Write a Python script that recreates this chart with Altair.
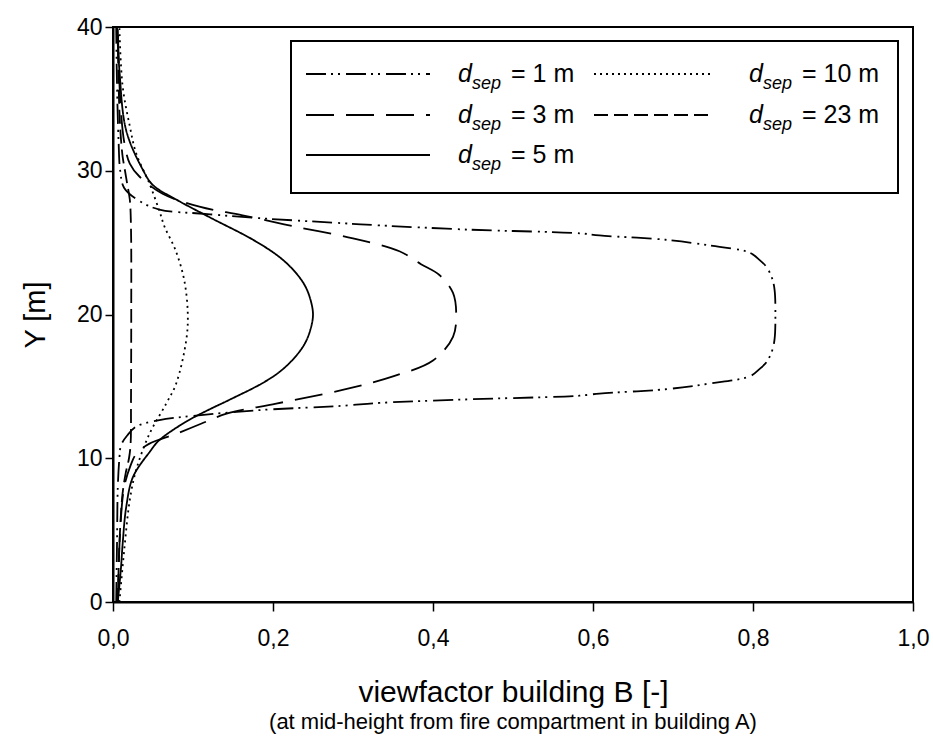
import altair as alt
import pandas as pd

# ---------------- data ----------------
series_names = ["d1", "d3", "d5", "d10", "d23"]

y_d1 = [0, 4, 8, 10, 10.9, 11.6, 12.2, 12.65, 13.0, 13.35, 13.65, 13.85, 14.1, 14.35, 14.5,
        14.8, 15.2, 15.7, 16.2, 16.7, 17.5, 18.3, 20.0, 21.7, 22.5, 23.3, 23.8, 24.3, 24.8,
        25.2, 25.5, 25.65, 25.9, 26.2, 26.35, 26.7, 27.0, 27.3, 27.9, 28.8, 30, 32, 36, 40]
x_d1 = [0.004, 0.005, 0.006, 0.008, 0.010, 0.018, 0.029, 0.058, 0.11, 0.183, 0.287, 0.333,
        0.446, 0.583, 0.608, 0.691, 0.746, 0.796, 0.808, 0.817, 0.824, 0.827, 0.828, 0.827,
        0.824, 0.817, 0.808, 0.796, 0.746, 0.691, 0.608, 0.583, 0.446, 0.333, 0.287, 0.183,
        0.115, 0.058, 0.033, 0.014, 0.009, 0.007, 0.005, 0.004]

y_d3 = [0, 5, 8, 9.5, 10.3, 11.0, 11.7, 12.4, 13.1, 13.8, 14.75, 15.7, 16.8, 18.45, 20,
        21.5, 22.75, 23.5, 24.4, 25.3, 26.1, 26.9, 27.5, 28.4, 29.6, 30.5, 32, 35, 40]
x_d3 = [0.006, 0.009, 0.014, 0.022, 0.029, 0.045, 0.079, 0.11, 0.142, 0.204, 0.287, 0.35,
        0.40, 0.425, 0.429, 0.425, 0.408, 0.385, 0.358, 0.30, 0.229, 0.162, 0.108, 0.062,
        0.033, 0.021, 0.014, 0.009, 0.006]

y_d5 = [0, 2.4, 4, 6.6, 8.7, 10.45, 11.26, 12.5, 13.3, 14.05, 15.2, 16.0, 17.0, 18.0,
        19.0, 20.0, 21.0, 22.0, 23.0, 24.0, 25.2, 26.7, 28.0, 29.0, 30.1, 32.8, 37, 40]
x_d5 = [0.006, 0.010, 0.012, 0.0165, 0.025, 0.046, 0.058, 0.090, 0.117, 0.145, 0.186, 0.208,
        0.227, 0.240, 0.247, 0.250, 0.247, 0.240, 0.227, 0.208, 0.175, 0.123, 0.079,
        0.050, 0.037, 0.0165, 0.008, 0.005]

y_d10 = [0, 3.6, 7.1, 9.2, 11.7, 13.8, 15.2, 18.2, 20, 22.4, 24.5, 26.1, 27.2, 29.1, 31.2,
         33.1, 35.9, 40]
x_d10 = [0.008, 0.014, 0.021, 0.029, 0.0456, 0.0665, 0.079, 0.0915, 0.0935, 0.089, 0.078,
         0.0645, 0.058, 0.0456, 0.029, 0.021, 0.012, 0.008]

y_d23 = [0, 4, 7, 8, 9, 10, 11, 14, 20, 26, 28, 29, 30, 31, 33, 36, 40]
x_d23 = [0.006, 0.008, 0.011, 0.013, 0.016, 0.020, 0.022, 0.0225, 0.0228, 0.0225, 0.021,
         0.018, 0.015, 0.012, 0.009, 0.007, 0.006]

legend_labels = ["= 1 m", "= 3 m", "= 5 m", "= 10 m", "= 23 m"]
x_ticks = [0.0, 0.2, 0.4, 0.6, 0.8, 1.0]
y_ticks = [0, 10, 20, 30, 40]

# ---------------- styling / layout ----------------
W, H = 800, 575
FONT = "Liberation Sans"
dash_patterns = [[20, 5, 2, 5, 2, 6], [28, 12], [1, 0], [2, 4], [14, 6]]
stroke_widths = [1.8, 1.8, 1.8, 2.4, 1.8]

rows = []
for name, ys, xs in [("d1", y_d1, x_d1), ("d3", y_d3, x_d3), ("d5", y_d5, x_d5),
                     ("d10", y_d10, x_d10), ("d23", y_d23, x_d23)]:
    for i, (yy, xx) in enumerate(zip(ys, xs)):
        rows.append({"series": name, "i": i, "x": xx, "y": yy})
df = pd.DataFrame(rows)

xscale = alt.Scale(domain=[0, 1], nice=False, zero=False)
yscale = alt.Scale(domain=[0, 40], nice=False, zero=False)
dash_scale = alt.Scale(domain=series_names, range=dash_patterns)
sw_scale = alt.Scale(domain=series_names, range=stroke_widths)

x_axis = alt.Axis(
    values=x_ticks, labelExpr="replace(format(datum.value, '.1f'), '.', ',')",
    grid=False, tickSize=9, tickWidth=1.5, tickColor="black",
    domainColor="black", domainWidth=2, labelFont=FONT, labelFontSize=23,
    labelColor="black", labelPadding=16, labelFlush=False,
    title="viewfactor building B [-]", titleFont=FONT, titleFontSize=30,
    titleFontWeight="normal", titleColor="black", titleY=99, titleX=W / 2,
    titleBaseline="alphabetic", titleAlign="center",
)
y_axis = alt.Axis(
    values=y_ticks, grid=False, tickSize=8, tickWidth=1.5, tickColor="black",
    domainColor="black", domainWidth=2, labelFont=FONT, labelFontSize=23,
    labelColor="black", labelPadding=3, labelFlush=False,
    title="Y [m]", titleFont=FONT, titleFontSize=29, titleFontWeight="normal",
    titleColor="black", titleX=-78, titleY=H / 2, titleBaseline="middle",
    titleAlign="center", titleAngle=270,
)

lines = alt.Chart(df).mark_line(color="black", interpolate="catmull-rom").encode(
    x=alt.X("x:Q", scale=xscale, axis=x_axis),
    y=alt.Y("y:Q", scale=yscale, axis=y_axis),
    detail="series:N",
    order="i:Q",
    strokeDash=alt.StrokeDash("series:N", scale=dash_scale, legend=None),
    strokeWidth=alt.StrokeWidth("series:N", scale=sw_scale, legend=None),
)


# legend layout (pixels within plot area) converted to data units
def px2x(p):
    return p / W


def py2y(p):
    return 40.0 * (H - p) / H


box_df = pd.DataFrame({"x0": [px2x(178)], "x1": [px2x(785)],
                       "y0": [py2y(14)], "y1": [py2y(166)]})
box = alt.Chart(box_df).mark_rect(fill="white", stroke="black", strokeWidth=2).encode(
    x="x0:Q", x2="x1:Q", y="y0:Q", y2="y1:Q")

leg_cols = {"d1": 0, "d3": 0, "d5": 0, "d10": 1, "d23": 1}
leg_rows = {"d1": 0, "d3": 1, "d5": 2, "d10": 0, "d23": 1}
sample_x = [(193, 317), (481, 601)]
text_x = [345, 636]
row_y = [47, 88, 128]

leg_rows_data = []
for name, lab in zip(series_names, legend_labels):
    c, r = leg_cols[name], leg_rows[name]
    leg_rows_data.append({
        "series": name,
        "lx0": px2x(sample_x[c][0]), "lx1": px2x(sample_x[c][1]), "ly": py2y(row_y[r]),
        "dx": px2x(text_x[c]), "dy": py2y(row_y[r] + 8),
        "sx": px2x(text_x[c] + 14), "sy": py2y(row_y[r] + 15),
        "ex": px2x(text_x[c] + 53), "ey": py2y(row_y[r] + 8),
        "d": "d", "sub": "sep", "label": lab,
    })
leg_df = pd.DataFrame(leg_rows_data)

samples = alt.Chart(leg_df).mark_rule(color="black").encode(
    x="lx0:Q", x2="lx1:Q", y="ly:Q",
    strokeDash=alt.StrokeDash("series:N", scale=dash_scale, legend=None),
    strokeWidth=alt.StrokeWidth("series:N", scale=sw_scale, legend=None),
)
t_d = alt.Chart(leg_df).mark_text(font=FONT, fontSize=25, fontStyle="italic", align="left",
                                  baseline="alphabetic", color="black").encode(
    x="dx:Q", y="dy:Q", text="d:N")
t_sub = alt.Chart(leg_df).mark_text(font=FONT, fontSize=18, fontStyle="italic", align="left",
                                    baseline="alphabetic", color="black").encode(
    x="sx:Q", y="sy:Q", text="sub:N")
t_lab = alt.Chart(leg_df).mark_text(font=FONT, fontSize=25, align="left",
                                    baseline="alphabetic", color="black").encode(
    x="ex:Q", y="ey:Q", text="label:N")

sub_title = alt.Chart(pd.DataFrame({"t": ["(at mid-height from fire compartment in building A)"]})
                      ).mark_text(font=FONT, fontSize=22, align="center", baseline="alphabetic",
                                  color="black").encode(
    text="t:N", x=alt.value(W / 2), y=alt.value(H + 127))

chart = alt.layer(lines, box, samples, t_d, t_sub, t_lab, sub_title).properties(
    width=W, height=H,
    autosize=alt.AutoSizeParams(type="none"),
    padding={"left": 113, "top": 27, "right": 20, "bottom": 141},
    background="white",
).configure_view(stroke="black", strokeWidth=2)

chart.save("out.html", embed_options={"renderer": "svg", "actions": False})
